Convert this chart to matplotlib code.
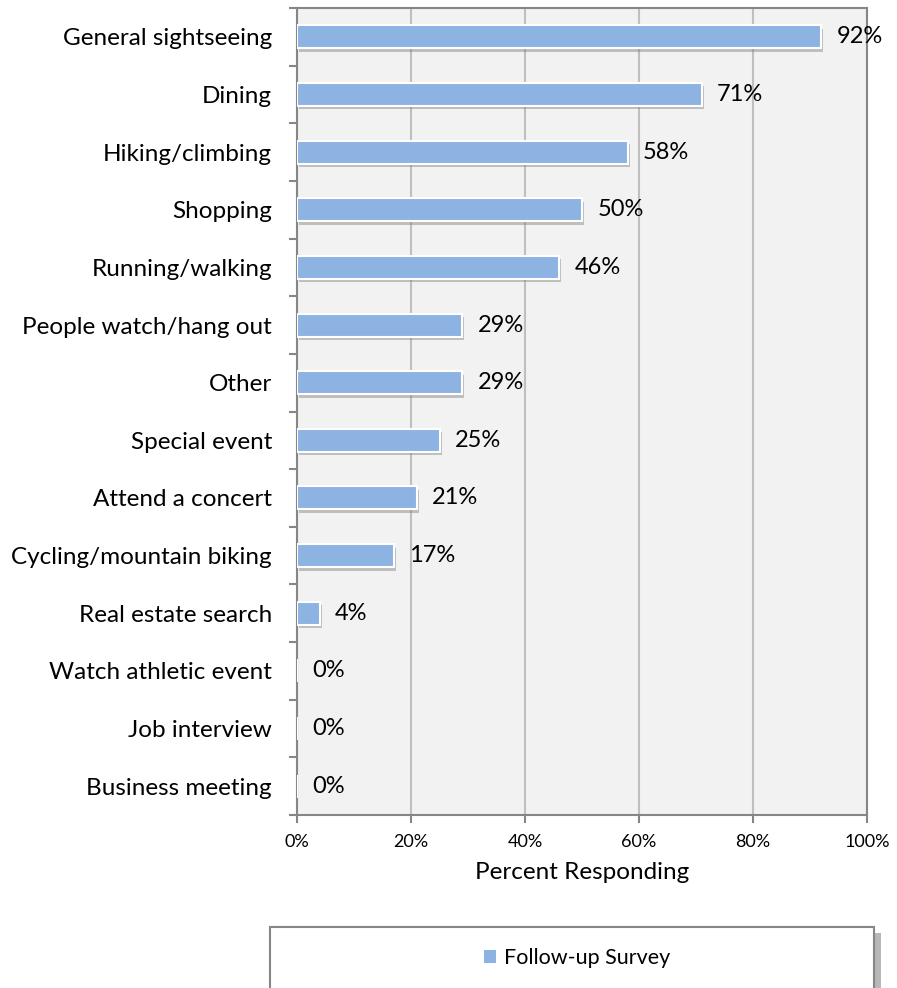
import matplotlib
matplotlib.use("Agg")
import matplotlib.pyplot as plt
import matplotlib.patheffects as pe
from matplotlib.patches import Rectangle, Patch
import numpy as np

categories = ["General sightseeing", "Dining", "Hiking/climbing", "Shopping",
              "Running/walking", "People watch/hang out", "Other", "Special event",
              "Attend a concert", "Cycling/mountain biking", "Real estate search",
              "Watch athletic event", "Job interview", "Business meeting"]
values = [92, 71, 58, 50, 46, 29, 29, 25, 21, 17, 4, 0, 0, 0]
xticks = [0, 20, 40, 60, 80, 100]
xticklabels = ["0%", "20%", "40%", "60%", "80%", "100%"]
series_name = "Follow-up Survey"

plt.rcParams['font.family'] = ['Lato', 'DejaVu Sans']

W, H = 897, 988
fig = plt.figure(figsize=(W / 100, H / 100), dpi=100)
ax = fig.add_axes([297 / W, 1 - 815 / H, (867 - 297) / W, (815 - 8) / H])
ax.set_facecolor("#f2f2f2")

bar_color = "#8db3e2"
y = np.arange(len(categories))
bars = ax.barh(y, values, height=0.40, color=bar_color, edgecolor="white",
               linewidth=1.5, zorder=3)
for b in bars:
    b.set_path_effects([pe.SimplePatchShadow(offset=(1.5, -2.5), shadow_rgbFace="#7f7f7f", alpha=0.45),
                        pe.Normal()])

for yi, v in zip(y, values):
    ax.text(v + 2.7, yi, f"{v}%", va="center", ha="left", fontsize=17, color="black", zorder=4)

ax.set_xlim(0, 100)
ax.set_ylim(len(categories) - 0.5, -0.5)
ax.set_xticks(xticks)
ax.set_xticklabels(xticklabels, fontsize=13)
ax.set_yticks(y)
ax.set_yticklabels(categories, fontsize=17.5)
ax.tick_params(axis="y", length=0, pad=18)
ax.set_yticks(np.arange(-0.5, len(categories), 1), minor=True)
ax.tick_params(axis="y", which="minor", length=6, color="#868686", width=1.5)
ax.tick_params(axis="x", length=6, color="#868686", width=1.5, pad=8)
ax.xaxis.grid(True, color="#bfbfbf", linewidth=1.5, zorder=0)
ax.set_axisbelow(True)
for s in ax.spines.values():
    s.set_color("#868686")
    s.set_linewidth(1.5)
ax.set_xlabel("Percent Responding", fontsize=17.5, labelpad=8)

# legend box
rect = Rectangle((270 / W, 1 - 1000 / H), (874 - 270) / W, (1000 - 927) / H,
                 transform=fig.transFigure, facecolor="white", edgecolor="#868686",
                 linewidth=1.5, zorder=1)
rect.set_path_effects([pe.SimplePatchShadow(offset=(5, -4), shadow_rgbFace="#7f7f7f", alpha=0.55),
                       pe.Normal()])
fig.patches.append(rect)
fig.legend(handles=[Patch(facecolor=bar_color, label=series_name)],
           loc="center", bbox_to_anchor=(577 / W, 1 - 958 / H), frameon=False,
           fontsize=15.5, handlelength=0.55, handleheight=0.55, handletextpad=0.37)

fig.savefig("out.png", dpi=100)
